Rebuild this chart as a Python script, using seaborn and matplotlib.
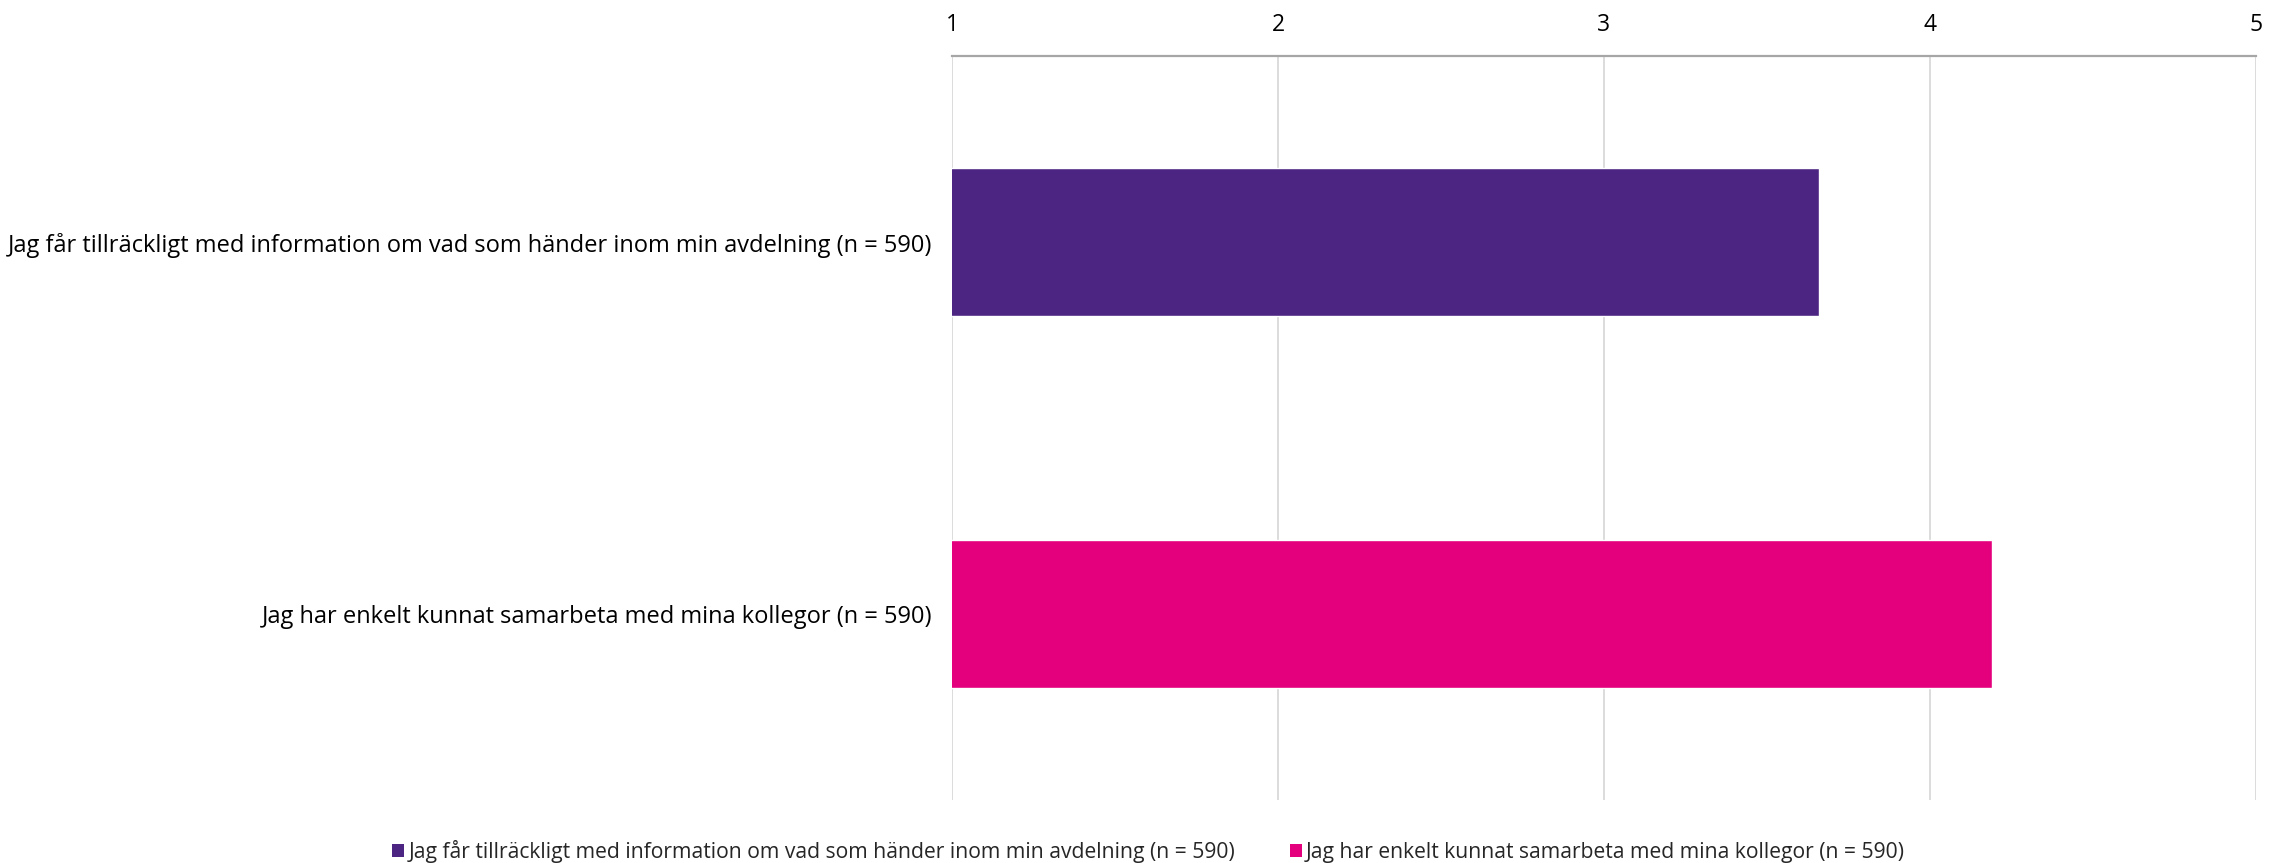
import matplotlib
matplotlib.use("Agg")
import matplotlib.pyplot as plt
import seaborn as sns
import pandas as pd
from matplotlib.patches import Patch

# Values
statements = [
    "Jag får tillräckligt med information om vad som händer inom min avdelning (n = 590)",
    "Jag har enkelt kunnat samarbeta med mina kollegor (n = 590)",
]
means = [3.66, 4.19]
bar_colors = ["#4C2482", "#E4007C"]
x_ticks = [1, 2, 3, 4, 5]

df = pd.DataFrame({"statement": statements, "mean": means})
palette = dict(zip(statements, bar_colors))

sns.set_style("white")
plt.rcParams["font.family"] = ["Open Sans", "DejaVu Sans"]

fig = plt.figure(figsize=(22.79, 8.63), dpi=100)
ax = fig.add_axes([0.4177, 0.073, 0.5722, 0.8621])

sns.barplot(data=df, y="statement", x="mean", hue="statement", palette=palette,
            dodge=False, width=0.4, legend=False, ax=ax, saturation=1)

ax.set_xlim(1, 5)
ax.set_ylim(1.5, -0.5)
ax.set_xticks(x_ticks)
ax.xaxis.tick_top()
ax.tick_params(axis="x", length=0, pad=14, labelsize=16.5, labelcolor="#000000")
ax.tick_params(axis="y", length=0, pad=14, labelsize=17, labelcolor="#000000")
ax.grid(axis="x", color="#d9d9d9", linewidth=1.3)
ax.set_axisbelow(True)
ax.set_xlabel("")
ax.set_ylabel("")
for side in ["left", "right", "bottom"]:
    ax.spines[side].set_visible(False)
ax.spines["top"].set_color("#a6a6a6")
ax.spines["top"].set_linewidth(1.6)

handles = [Patch(facecolor=c, edgecolor="none", label=s) for s, c in zip(statements, bar_colors)]
fig.legend(handles=handles, loc="center", bbox_to_anchor=(0.504, 0.013), ncol=2,
           frameon=False, fontsize=15.2, handlelength=0.55, handleheight=0.55,
           handletextpad=0.2, columnspacing=2.6, labelcolor="#262626")

fig.savefig("out.png", dpi=100)
